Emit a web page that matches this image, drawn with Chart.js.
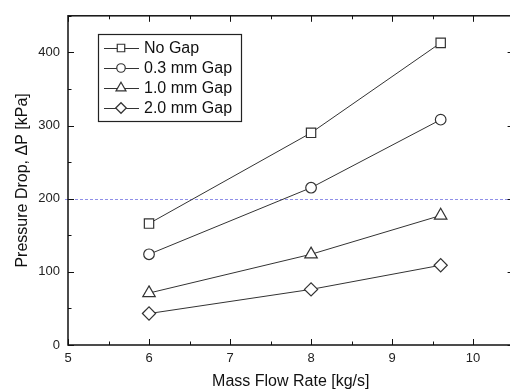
<!DOCTYPE html>
<html>
<head>
<meta charset="utf-8">
<script src="https://cdn.jsdelivr.net/npm/chart.js@4.4.1/dist/chart.umd.min.js"></script>
<style>
  html, body { margin: 0; padding: 0; background: #fff; overflow: hidden; }
  #wrap { width: 522px; height: 391px; }
</style>
</head>
<body>
<div id="wrap"><canvas id="chart"></canvas></div>
<script>
'use strict';

// data
const flowRates = [6, 8, 9.6];
const noGap = [166, 290, 413];
const gap03 = [124, 215, 308];
const gap10 = [71, 124, 177];
const gap20 = [43, 76, 109];

const seriesNames = ['No Gap', '0.3 mm Gap', '1.0 mm Gap', '2.0 mm Gap'];
const markers = ['rect', 'circle', 'triangle', 'rectRot'];
const markerSizes = [6.6, 5.3, 7.2, 6.6];

const xTicks = [5, 6, 7, 8, 9, 10];
const yTicks = [0, 100, 200, 300, 400];
const refLine = 200;

const ink = '#333';
const fontFam = '"Liberation Sans", Arial, sans-serif';

function pts(ys) {
    return flowRates.map((x, i) => ({ x: x, y: ys[i] }));
}

const datasets = [noGap, gap03, gap10, gap20].map((ys, i) => ({
    label: seriesNames[i],
    data: pts(ys),
    borderColor: ink,
    borderWidth: 1,
    pointStyle: markers[i],
    pointRadius: markerSizes[i],
    pointHoverRadius: markerSizes[i],
    pointBackgroundColor: '#fff',
    pointBorderColor: ink,
    pointBorderWidth: 1.2,
    tension: 0,
    fill: false
}));

// frame, inward ticks, reference line and legend
const framePlugin = {
    id: 'frame',
    beforeDatasetsDraw(chart) {
        const { ctx, chartArea: a, scales: { y } } = chart;
        ctx.save();
        ctx.strokeStyle = '#8f8fe8';
        ctx.lineWidth = 1;
        ctx.setLineDash([3, 2]);
        const yr = Math.round(y.getPixelForValue(refLine)) + 0.5;
        ctx.beginPath();
        ctx.moveTo(a.left - 3, yr);
        ctx.lineTo(a.right + 10, yr);
        ctx.stroke();
        ctx.restore();
    },
    afterDatasetsDraw(chart) {
        const { ctx, chartArea: a, scales: { x, y } } = chart;
        ctx.save();
        ctx.strokeStyle = '#111';
        ctx.lineWidth = 1.5;
        ctx.strokeRect(a.left, a.top, a.right - a.left, a.bottom - a.top);

        ctx.lineWidth = 1;
        ctx.beginPath();
        for (let v = 5; v <= 10.5; v += 0.5) {
            const px = Math.round(x.getPixelForValue(v)) + 0.5;
            const len = Number.isInteger(v) ? 6 : 3.5;
            ctx.moveTo(px, a.bottom); ctx.lineTo(px, a.bottom - len);
            ctx.moveTo(px, a.top); ctx.lineTo(px, a.top + len);
        }
        for (let v = 0; v <= 450; v += 50) {
            const py = Math.round(y.getPixelForValue(v)) + 0.5;
            const len = v % 100 === 0 ? 6 : 3.5;
            ctx.moveTo(a.left, py); ctx.lineTo(a.left + len, py);
            ctx.moveTo(a.right, py); ctx.lineTo(a.right - len, py);
        }
        ctx.stroke();

        // legend box
        const bx = 98, by = 34, bw = 143, bh = 87;
        ctx.fillStyle = '#fff';
        ctx.fillRect(bx, by, bw, bh);
        ctx.strokeStyle = '#222';
        ctx.lineWidth = 1.2;
        ctx.strokeRect(bx + 0.5, by + 0.5, bw, bh);

        ctx.font = '16px ' + fontFam;
        ctx.textBaseline = 'middle';
        seriesNames.forEach((name, i) => {
            const ry = by + 14 + i * 20;
            ctx.strokeStyle = ink;
            ctx.lineWidth = 1;
            ctx.beginPath();
            ctx.moveTo(bx + 6, ry + 0.5);
            ctx.lineTo(bx + 41, ry + 0.5);
            ctx.stroke();
            ctx.fillStyle = '#fff';
            ctx.lineWidth = 1.2;
            Chart.helpers.drawPoint(ctx, {
                pointStyle: markers[i],
                radius: markerSizes[i] * 0.8,
                borderWidth: 1.2
            }, bx + 23, ry);
            ctx.fillStyle = '#111';
            ctx.fillText(name, bx + 46, ry + 1);
        });
        ctx.restore();
    }
};

new Chart(document.getElementById('chart').getContext('2d'), {
    type: 'line',
    data: { datasets: datasets },
    options: {
        responsive: true,
        maintainAspectRatio: false,
        animation: false,
        layout: { padding: { top: 14, right: 7, left: 0, bottom: 0 } },
        plugins: {
            legend: { display: false },
            tooltip: { enabled: false }
        },
        scales: {
            x: {
                type: 'linear',
                min: 5,
                max: 10.5,
                afterBuildTicks: s => { s.ticks = xTicks.map(v => ({ value: v })); },
                afterFit: s => { s.height = 46; },
                grid: { display: false, drawTicks: false },
                border: { display: false },
                ticks: {
                    padding: 6,
                    color: '#222',
                    font: { family: fontFam, size: 13 }
                },
                title: {
                    display: true,
                    text: 'Mass Flow Rate [kg/s]',
                    color: '#111',
                    padding: { top: 4, bottom: 0 },
                    font: { family: fontFam, size: 16 }
                }
            },
            y: {
                type: 'linear',
                min: 0,
                max: 450,
                afterBuildTicks: s => { s.ticks = yTicks.map(v => ({ value: v })); },
                afterFit: s => { s.width = 68; },
                grid: { display: false, drawTicks: false },
                border: { display: false },
                ticks: {
                    padding: 8,
                    color: '#222',
                    font: { family: fontFam, size: 13 }
                },
                title: {
                    display: true,
                    text: 'Pressure Drop, ΔP [kPa]',
                    color: '#111',
                    padding: { top: 13, bottom: 0 },
                    font: { family: fontFam, size: 16 }
                }
            }
        }
    },
    plugins: [framePlugin]
});
</script>
</body>
</html>
